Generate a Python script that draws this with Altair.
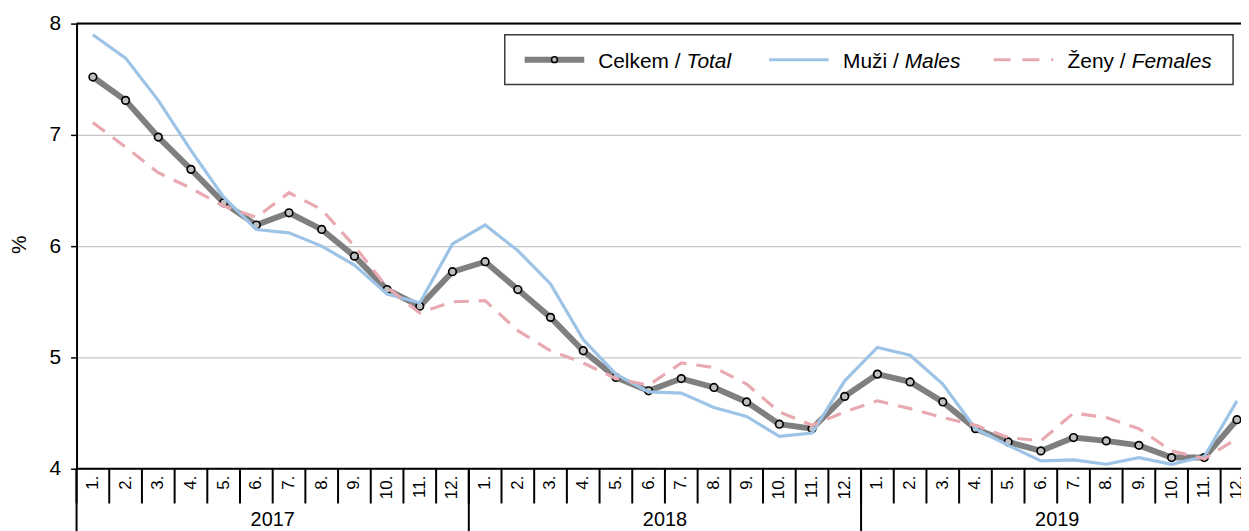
import altair as alt
import pandas as pd

# ---- data ----
years = ["2017", "2018", "2019"]
month_labels = ["1.", "2.", "3.", "4.", "5.", "6.", "7.", "8.", "9.", "10.", "11.", "12."]

total = [7.52, 7.31, 6.98, 6.69, 6.39, 6.19, 6.30, 6.15, 5.91, 5.61, 5.46, 5.77,
         5.86, 5.61, 5.36, 5.06, 4.82, 4.70, 4.81, 4.73, 4.60, 4.40, 4.36, 4.65,
         4.85, 4.78, 4.60, 4.36, 4.24, 4.16, 4.28, 4.25, 4.21, 4.10, 4.10, 4.44]
males = [7.90, 7.69, 7.31, 6.86, 6.44, 6.15, 6.12, 6.00, 5.83, 5.57, 5.49, 6.02,
         6.19, 5.96, 5.66, 5.16, 4.85, 4.69, 4.68, 4.55, 4.47, 4.29, 4.32, 4.79,
         5.09, 5.02, 4.76, 4.36, 4.21, 4.07, 4.08, 4.04, 4.10, 4.04, 4.11, 4.61]
females = [7.11, 6.89, 6.66, 6.52, 6.36, 6.26, 6.48, 6.33, 6.00, 5.63, 5.40, 5.50,
           5.51, 5.24, 5.06, 4.95, 4.81, 4.75, 4.95, 4.91, 4.76, 4.51, 4.39, 4.51,
           4.61, 4.54, 4.46, 4.39, 4.28, 4.25, 4.50, 4.46, 4.36, 4.16, 4.09, 4.27]

y_ticks = [4, 5, 6, 7, 8]

FONT = "Liberation Sans"
C_TOTAL = "#7f7f7f"
C_MALE = "#9dc3e6"
C_FEMALE = "#e8a9b0"

n = len(years) * len(month_labels)
df = pd.DataFrame({
    "pos": [i + 0.5 for i in range(n)],
    "month": month_labels * len(years),
    "year": [y for y in years for _ in month_labels],
    "total": total,
    "males": males,
    "females": females,
})
bounds = pd.DataFrame({"b": list(range(n + 1))})
year_bounds = pd.DataFrame({"b": [i * len(month_labels) for i in range(len(years) + 1)]})
year_df = pd.DataFrame({
    "year": years,
    "mid": [i * len(month_labels) + len(month_labels) / 2 for i in range(len(years))],
})
one = pd.DataFrame({"k": [0]})

W = 1172
H = 448
STEP = 32.9
xmax = W / STEP

xs = alt.Scale(domain=[0, xmax], nice=False, zero=False)
ys = alt.Scale(domain=[4, 8], nice=False, zero=False)

yaxis = alt.Axis(
    values=y_ticks, format="d", title="%", grid=True, gridColor="#c6c6c6", gridWidth=1.2,
    domain=True, domainColor="black", domainWidth=2,
    ticks=True, tickSize=6, tickColor="black", tickWidth=1.5,
    labelFont=FONT, labelFontSize=21, labelColor="black", labelPadding=10,
    titleFont=FONT, titleFontSize=21, titleFontWeight="normal", titleColor="black",
    titleAngle=270, titleX=-57, titleY=222, titleAlign="center", titleBaseline="middle",
)

base = alt.Chart(df)

total_line = base.mark_line(color=C_TOTAL, strokeWidth=6, clip=True).encode(
    x=alt.X("pos:Q", scale=xs, axis=None),
    y=alt.Y("total:Q", scale=ys, axis=yaxis),
)
total_pts = base.mark_point(shape="circle", filled=True, fill="#c0c0c0", stroke="black",
                            strokeWidth=1.7, size=58, opacity=1, clip=True).encode(
    x=alt.X("pos:Q", scale=xs), y=alt.Y("total:Q", scale=ys),
)
male_line = base.mark_line(color=C_MALE, strokeWidth=3.2, clip=True).encode(
    x=alt.X("pos:Q", scale=xs), y=alt.Y("males:Q", scale=ys),
)
female_line = base.mark_line(color=C_FEMALE, strokeWidth=3.2, strokeDash=[15, 10], clip=True).encode(
    x=alt.X("pos:Q", scale=xs), y=alt.Y("females:Q", scale=ys),
)

top_rule = alt.Chart(one).mark_rule(color="black", strokeWidth=2).encode(
    y=alt.datum(8, scale=ys), x=alt.value(0), x2=alt.value(W))
bottom_rule = alt.Chart(one).mark_rule(color="black", strokeWidth=2).encode(
    y=alt.datum(4, scale=ys), x=alt.value(0), x2=alt.value(W))

month_seps = alt.Chart(bounds).mark_rule(color="black", strokeWidth=2).encode(
    x=alt.X("b:Q", scale=xs), y=alt.value(H), y2=alt.value(H + 35))
year_seps = alt.Chart(year_bounds).mark_rule(color="black", strokeWidth=2).encode(
    x=alt.X("b:Q", scale=xs), y=alt.value(H), y2=alt.value(H + 90))
month_text = base.mark_text(angle=270, align="right", baseline="middle", font=FONT,
                            fontSize=17, color="black").encode(
    x=alt.X("pos:Q", scale=xs), y=alt.value(H + 7), text="month:N")
year_text = alt.Chart(year_df).mark_text(align="center", baseline="alphabetic", font=FONT,
                                         fontSize=20, color="black").encode(
    x=alt.X("mid:Q", scale=xs), y=alt.value(H + 58), text="year:N")

# ---- legend (custom, to allow italic English names) ----
LY = 36.3
leg_box = alt.Chart(one).mark_rect(fill="white", stroke="#3a3a3a", strokeWidth=1.5).encode(
    x=alt.value(431), x2=alt.value(1164), y=alt.value(11.3), y2=alt.value(61.3))
leg_total = alt.Chart(one).mark_rule(color=C_TOTAL, strokeWidth=6).encode(
    x=alt.value(451), x2=alt.value(511), y=alt.value(LY))
leg_total_pt = alt.Chart(one).mark_point(shape="circle", filled=True, fill="#c0c0c0",
                                         stroke="black", strokeWidth=1.5, size=34, opacity=1).encode(
    x=alt.value(481), y=alt.value(LY))
leg_male = alt.Chart(one).mark_rule(color=C_MALE, strokeWidth=3).encode(
    x=alt.value(697), x2=alt.value(757), y=alt.value(LY))
leg_female = alt.Chart(one).mark_rule(color=C_FEMALE, strokeWidth=3, strokeDash=[17, 12]).encode(
    x=alt.value(923), x2=alt.value(983), y=alt.value(LY))


def leg_text(txt, xpos, italic=False):
    kw = dict(align="left", baseline="alphabetic", font=FONT, fontSize=21, color="black")
    if italic:
        kw["fontStyle"] = "italic"
    return alt.Chart(one).mark_text(text=txt, **kw).encode(x=alt.value(xpos), y=alt.value(44.6))


legend_layers = [
    leg_box, leg_total, leg_total_pt, leg_male, leg_female,
    leg_text("Celkem / ", 525), leg_text("Total", 614, True),
    leg_text("Muži / ", 771.5), leg_text("Males", 833.5, True),
    leg_text("Ženy / ", 997.5), leg_text("Females", 1062, True),
]

chart = alt.layer(
    total_line, total_pts, male_line, female_line,
    top_rule, bottom_rule, month_seps, year_seps, month_text, year_text,
    *legend_layers,
).properties(
    width=W, height=H,
    autosize=alt.AutoSizeParams(type="none"),
    padding={"left": 69, "top": 14, "right": 0, "bottom": 61},
    background="white",
).configure_view(strokeWidth=0)

chart.save("out.html", embed_options={"renderer": "svg", "actions": False})
